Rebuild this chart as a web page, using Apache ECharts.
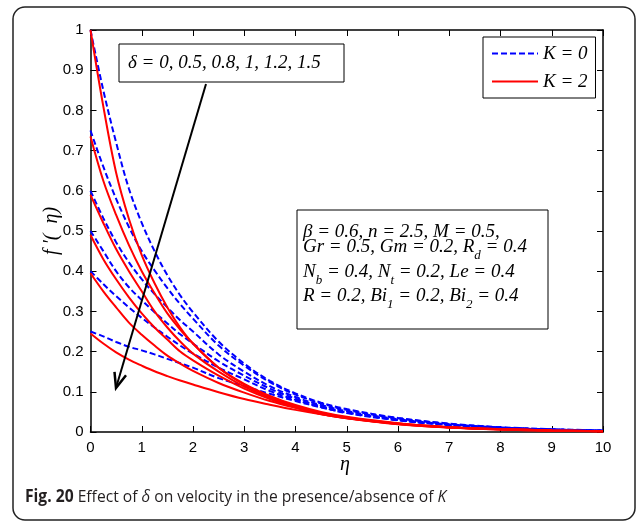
<!DOCTYPE html>
<html>
<head>
<meta charset="utf-8">
<script src="https://cdn.jsdelivr.net/npm/echarts@6/dist/echarts.min.js"></script>
<style>
  html, body { margin: 0; padding: 0; background: #fff; }
  #chart { width: 637px; height: 522px; }
</style>
</head>
<body>
<div id="chart"></div>
<script>
// similarity variable η (sample positions of every profile)
const eta = [0, 0.25, 0.5, 0.75, 1, 1.25, 1.5, 1.75, 2, 2.5, 3, 3.5, 4, 4.5, 5, 6, 7, 8, 9, 10];

// slip parameter values
const deltaLabels = ['0', '0.5', '0.8', '1', '1.2', '1.5'];

// axis ticks
const xTicks = [0, 1, 2, 3, 4, 5, 6, 7, 8, 9, 10];
const yTicks = [0, 0.1, 0.2, 0.3, 0.4, 0.5, 0.6, 0.7, 0.8, 0.9, 1];

// velocity f'(η), K = 0 (one array per δ)
const velK0_d0   = [1.0, 0.85, 0.72, 0.605, 0.52, 0.45, 0.39, 0.34, 0.298, 0.225, 0.17, 0.127, 0.096, 0.073, 0.057, 0.035, 0.021, 0.012, 0.007, 0.004];
const velK0_d05  = [0.75, 0.66, 0.58, 0.51, 0.45, 0.402, 0.358, 0.318, 0.282, 0.215, 0.165, 0.124, 0.093, 0.071, 0.055, 0.034, 0.020, 0.011, 0.006, 0.003];
const velK0_d08  = [0.60, 0.532, 0.472, 0.422, 0.38, 0.343, 0.31, 0.278, 0.25, 0.193, 0.15, 0.114, 0.087, 0.067, 0.052, 0.032, 0.019, 0.011, 0.006, 0.003];
const velK0_d1   = [0.50, 0.45, 0.40, 0.36, 0.328, 0.298, 0.27, 0.243, 0.22, 0.176, 0.14, 0.108, 0.083, 0.064, 0.049, 0.030, 0.018, 0.010, 0.006, 0.003];
const velK0_d12  = [0.40, 0.368, 0.338, 0.31, 0.284, 0.26, 0.237, 0.215, 0.195, 0.16, 0.131, 0.102, 0.080, 0.062, 0.047, 0.029, 0.017, 0.010, 0.006, 0.003];
const velK0_d15  = [0.25, 0.238, 0.224, 0.212, 0.203, 0.193, 0.182, 0.171, 0.16, 0.134, 0.114, 0.095, 0.077, 0.061, 0.048, 0.030, 0.018, 0.011, 0.006, 0.003];

// velocity f'(η), K = 2 (one array per δ)
const velK2_d0   = [1.0, 0.81, 0.645, 0.53, 0.44, 0.37, 0.31, 0.26, 0.22, 0.16, 0.12, 0.09, 0.067, 0.05, 0.038, 0.022, 0.012, 0.007, 0.004, 0.002];
const velK2_d05  = [0.735, 0.625, 0.54, 0.465, 0.40, 0.345, 0.295, 0.255, 0.22, 0.16, 0.118, 0.088, 0.065, 0.048, 0.036, 0.021, 0.012, 0.007, 0.004, 0.002];
const velK2_d08  = [0.59, 0.52, 0.455, 0.40, 0.35, 0.30, 0.26, 0.225, 0.195, 0.15, 0.113, 0.085, 0.063, 0.047, 0.035, 0.020, 0.012, 0.007, 0.004, 0.002];
const velK2_d1   = [0.49, 0.43, 0.38, 0.335, 0.295, 0.26, 0.23, 0.20, 0.178, 0.14, 0.108, 0.082, 0.061, 0.045, 0.034, 0.019, 0.011, 0.006, 0.003, 0.002];
const velK2_d12  = [0.395, 0.35, 0.31, 0.272, 0.242, 0.215, 0.19, 0.17, 0.152, 0.122, 0.098, 0.077, 0.060, 0.045, 0.034, 0.020, 0.011, 0.006, 0.003, 0.002];
const velK2_d15  = [0.245, 0.22, 0.198, 0.18, 0.165, 0.151, 0.139, 0.128, 0.118, 0.099, 0.082, 0.068, 0.055, 0.044, 0.035, 0.021, 0.012, 0.007, 0.004, 0.002];

const velK0 = [velK0_d0, velK0_d05, velK0_d08, velK0_d1, velK0_d12, velK0_d15];
const velK2 = [velK2_d0, velK2_d05, velK2_d08, velK2_d1, velK2_d12, velK2_d15];

const BLUE = '#0000ff';
const RED = '#ff0000';
const SERIF = '"Liberation Serif", "Times New Roman", serif';
const SANS = '"Liberation Sans", Arial, sans-serif';
const CAPTION_FONT = '"Open Sans", "Noto Sans", sans-serif';

const chart = echarts.init(document.getElementById('chart'), null, { renderer: 'canvas' });

function toPairs(values) {
  return eta.map((e, i) => [e, values[i]]);
}

const series = [];
velK0.forEach((values, i) => {
  series.push({
    name: 'K = 0', id: 'k0_' + deltaLabels[i], type: 'line', data: toPairs(values),
    symbol: 'none', showSymbol: false, smooth: 0.35, silent: true, z: 2,
    lineStyle: { color: BLUE, width: 2, type: [6, 3] }, itemStyle: { color: BLUE }
  });
});
velK2.forEach((values, i) => {
  series.push({
    name: 'K = 2', id: 'k2_' + deltaLabels[i], type: 'line', data: toPairs(values),
    symbol: 'none', showSymbol: false, smooth: 0.35, silent: true, z: 3,
    lineStyle: { color: RED, width: 2, type: 'solid' }, itemStyle: { color: RED }
  });
});

const axisLine = { show: true, onZero: false, lineStyle: { color: '#000', width: 1.5 } };
const axisTick = { show: true, inside: true, length: 6, lineStyle: { color: '#000', width: 1 } };

// text with subscripts laid out piece by piece
const measureCtx = document.createElement('canvas').getContext('2d');
const MAIN_SIZE = 19, SUB_SIZE = 13;
function textLine(pieces, x0, y) {
  const out = [];
  let x = x0;
  pieces.forEach(p => {
    const sub = p[1] === 1;
    const size = sub ? SUB_SIZE : MAIN_SIZE;
    measureCtx.font = 'italic ' + size + 'px "Liberation Serif"';
    out.push({
      type: 'text', x: x, y: sub ? y + 9 : y, silent: true, z: 21,
      style: {
        text: p[0], fill: '#000', align: 'left', verticalAlign: 'middle',
        fontFamily: SERIF, fontStyle: 'italic', fontSize: size
      }
    });
    x += measureCtx.measureText(p[0]).width;
  });
  return out;
}

const paramLines = [
  [['β = 0.6, n = 2.5, M = 0.5,']],
  [['Gr = 0.5, Gm = 0.2, R'], ['d', 1], [' = 0.4']],
  [['N'], ['b', 1], [' = 0.4, N'], ['t', 1], [' = 0.2, Le = 0.4']],
  [['R = 0.2, Bi'], ['1', 1], [' = 0.2, Bi'], ['2', 1], [' = 0.4']]
];
const paramY = [232, 247, 272, 296];
let paramTexts = [];
paramLines.forEach((ln, i) => { paramTexts = paramTexts.concat(textLine(ln, 303, paramY[i])); });

// arrow pointing in the direction of increasing δ
const arrowFrom = [206, 84], arrowTip = [116, 388];
const dx = arrowTip[0] - arrowFrom[0], dy = arrowTip[1] - arrowFrom[1];
const len = Math.hypot(dx, dy);
const ux = dx / len, uy = dy / len;
const back = [arrowTip[0] - 15 * ux, arrowTip[1] - 15 * uy];
const wingA = [back[0] - 6 * uy, back[1] + 6 * ux];
const wingB = [back[0] + 6 * uy, back[1] - 6 * ux];

const graphic = [
  // figure frame
  { type: 'rect', silent: true, z: 0,
    shape: { x: 13, y: 7, width: 622, height: 513, r: 12 },
    style: { fill: 'none', stroke: '#222', lineWidth: 1.5 } },
  // δ annotation
  { type: 'rect', silent: true, z: 20,
    shape: { x: 119, y: 44, width: 225, height: 38 },
    style: { fill: '#fff', stroke: '#000', lineWidth: 1 } },
  { type: 'text', silent: true, z: 21, x: 128, y: 63,
    style: { text: 'δ = 0, 0.5, 0.8, 1, 1.2, 1.5', fill: '#000', align: 'left', verticalAlign: 'middle',
      fontFamily: SERIF, fontStyle: 'italic', fontSize: 19 } },
  { type: 'line', silent: true, z: 22,
    shape: { x1: arrowFrom[0], y1: arrowFrom[1], x2: arrowTip[0] - 2 * ux, y2: arrowTip[1] - 2 * uy },
    style: { stroke: '#000', lineWidth: 2 } },
  { type: 'polyline', silent: true, z: 22,
    shape: { points: [wingA, arrowTip, wingB] },
    style: { stroke: '#000', lineWidth: 2.5, fill: 'none', lineJoin: 'miter' } },
  // parameter box
  { type: 'rect', silent: true, z: 20,
    shape: { x: 297, y: 210, width: 251, height: 119 },
    style: { fill: '#fff', stroke: '#000', lineWidth: 1 } },
  ...paramTexts,
  // axis names
  { type: 'text', silent: true, z: 21, x: 345, y: 465,
    style: { text: 'η', fill: '#000', align: 'center', verticalAlign: 'middle',
      fontFamily: SERIF, fontStyle: 'italic', fontSize: 20 } },
  { type: 'text', silent: true, z: 21, x: 52, y: 231, rotation: Math.PI / 2,
    style: { text: 'f ′(  η)', fill: '#000', align: 'center', verticalAlign: 'middle',
      fontFamily: SERIF, fontStyle: 'italic', fontSize: 20 } },
  // caption
  { type: 'text', silent: true, z: 21, x: 25, y: 497, scaleX: 0.92,
    style: {
      text: '{b|Fig. 20} Effect of {i|δ} on velocity in the presence/absence of {i|K}',
      fill: '#231f20', align: 'left', verticalAlign: 'middle',
      fontFamily: CAPTION_FONT, fontSize: 17,
      rich: {
        b: { fontFamily: CAPTION_FONT, fontWeight: 'bold', fontSize: 17, fill: '#231f20' },
        i: { fontFamily: CAPTION_FONT, fontStyle: 'italic', fontSize: 17, fill: '#231f20' }
      }
    } }
];

chart.setOption({
  animation: false,
  backgroundColor: '#fff',
  grid: { left: 90.5, top: 30, right: 34, bottom: 90, containLabel: false },
  legend: {
    data: ['K = 0', 'K = 2'], orient: 'vertical', left: 483, top: 37,
    padding: [7, 8, 7, 8], itemGap: 9, itemWidth: 46, itemHeight: 16,
    backgroundColor: '#fff', borderColor: '#000', borderWidth: 1, borderRadius: 0,
    selectedMode: false, z: 20,
    itemStyle: { opacity: 0, borderWidth: 0 },
    textStyle: { fontFamily: SERIF, fontStyle: 'italic', fontSize: 19, color: '#000' }
  },
  xAxis: [
    { type: 'value', position: 'bottom', min: xTicks[0], max: xTicks[xTicks.length - 1], interval: 1,
      axisLine, axisTick, splitLine: { show: false },
      axisLabel: { color: '#000', fontFamily: SANS, fontSize: 15, margin: 8 } },
    { type: 'value', position: 'top', min: xTicks[0], max: xTicks[xTicks.length - 1], interval: 1,
      axisLine, axisTick, splitLine: { show: false }, axisLabel: { show: false } }
  ],
  yAxis: [
    { type: 'value', position: 'left', min: yTicks[0], max: yTicks[yTicks.length - 1], interval: 0.1,
      axisLine, axisTick, splitLine: { show: false },
      axisLabel: { color: '#000', fontFamily: SANS, fontSize: 15, margin: 7 } },
    { type: 'value', position: 'right', min: yTicks[0], max: yTicks[yTicks.length - 1], interval: 0.1,
      axisLine, axisTick, splitLine: { show: false }, axisLabel: { show: false } }
  ],
  series,
  graphic
});
</script>
</body>
</html>
